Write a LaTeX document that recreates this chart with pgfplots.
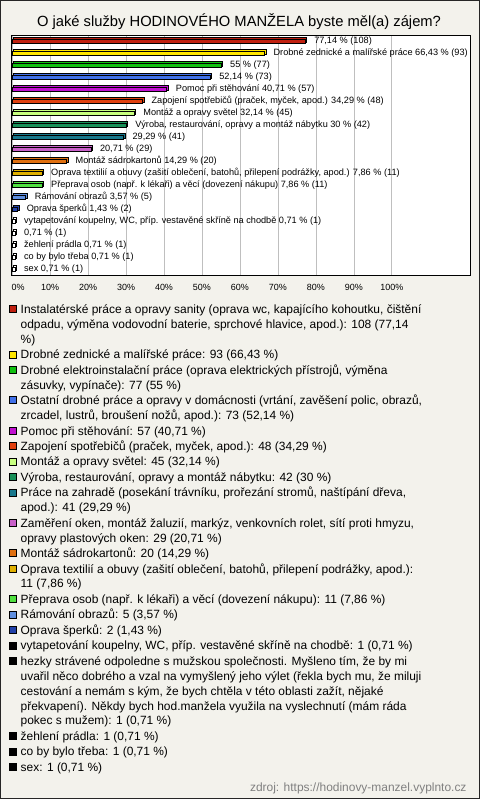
\documentclass[border=0pt]{standalone}
\usepackage{pgfplots}
\pgfplotsset{compat=1.18}
\usepackage{fontspec}
\setmainfont{Liberation Sans}
\definecolor{bg}{RGB}{243,242,236}
\definecolor{c0}{RGB}{192,32,16}
\definecolor{c1}{RGB}{255,230,0}
\definecolor{c2}{RGB}{16,192,16}
\definecolor{c3}{RGB}{64,112,232}
\definecolor{c4}{RGB}{192,16,208}
\definecolor{c5}{RGB}{224,64,16}
\definecolor{c6}{RGB}{200,255,128}
\definecolor{c7}{RGB}{24,144,88}
\definecolor{c8}{RGB}{24,120,140}
\definecolor{c9}{RGB}{200,96,200}
\definecolor{c10}{RGB}{224,112,16}
\definecolor{c11}{RGB}{224,176,0}
\definecolor{c12}{RGB}{80,224,64}
\definecolor{c13}{RGB}{96,144,224}
\definecolor{c14}{RGB}{32,64,168}
\definecolor{c15}{RGB}{255,255,255}
\newcommand{\LE}[1]{\parbox[t]{455bp}{\raggedright\strut#1\strut}}
\pgfplotsset{blacklegend/.style={legend image code/.code={\draw[draw=black, fill=black, line width=0.5bp] (0bp,1bp) rectangle (7bp,8bp);}}}
\begin{document}
\begin{tikzpicture}
\useasboundingbox (0,0) rectangle (480bp,-799bp);
\fill[bg] (0,0) rectangle (480bp,-799bp);
\draw[black!85, line width=1bp] (0.5bp,-0.5bp) rectangle (479.5bp,-798.5bp);
\node[font=\fontsize{14.8}{17}\selectfont, anchor=base] at (239bp,-26bp) {O jaké služby HODINOVÉHO MANŽELA byste měl(a) zájem?};
\node[font=\fontsize{12}{14}\selectfont, text=black!50, anchor=base east] at (470bp,-791bp) {zdroj: https://hodinovy-manzel.vyplnto.cz};
\begin{axis}[
  at={(11bp,-275bp)}, anchor=south west,
  width=459bp, height=240bp, scale only axis,
  xmin=-0.3, xmax=120.6, ymin=-0.5, ymax=19.5, y dir=reverse,
  xbar, bar width=4.5bp, bar shift=0pt,
  axis background/.style={fill=white},
  axis line style={black, line width=0.8bp},
  xtick={0,10,...,100},
  xticklabels={\hspace*{12bp}0\%,10\%,20\%,30\%,40\%,50\%,60\%,70\%,80\%,90\%,100\%},
  xticklabel style={font=\fontsize{9}{10}\selectfont, yshift=-6bp},
  ytick=\empty,
  xmajorgrids, major grid style={black!25, line width=0.6bp},
  tick style={draw=none},
  every node near coord/.append style={font=\fontsize{9.2}{10}\selectfont, text=black, anchor=west, inner sep=0pt, xshift=9bp},
  legend image code/.code={\draw[#1, draw=black, line width=0.5bp] (0bp,1bp) rectangle (7bp,8bp);},
  legend style={at={(axis description cs:-0.0033,-0.1167)}, anchor=north west, draw=none, fill=none, inner sep=0pt, outer sep=0pt, row sep=0.5bp, column sep=3.7bp, font=\fontsize{12}{15}\selectfont, cells={anchor=base west}, nodes={inner sep=0pt, text depth=, text height=}},
]
\addplot[fill=c0, draw=black, line width=0.5bp, forget plot, xshift=1.5bp, yshift=1.5bp] coordinates {(77.14,0)};
\addplot[fill=c0, draw=black, line width=0.5bp, nodes near coords={77,14 \% (108)}] coordinates {(77.14,0)};
\addlegendentry{\LE{Instalatérské práce a opravy sanity (oprava wc, kapajícího kohoutku, čištění\\odpadu, výměna vodovodní baterie, sprchové hlavice, apod.): 108 (77,14\\\%)}}
\addplot[fill=c1, draw=black, line width=0.5bp, forget plot, xshift=1.5bp, yshift=1.5bp] coordinates {(66.43,1)};
\addplot[fill=c1, draw=black, line width=0.5bp, nodes near coords={Drobné zednické a malířské práce 66,43 \% (93)}] coordinates {(66.43,1)};
\addlegendentry{\LE{Drobné zednické a malířské práce: 93 (66,43 \%)}}
\addplot[fill=c2, draw=black, line width=0.5bp, forget plot, xshift=1.5bp, yshift=1.5bp] coordinates {(55,2)};
\addplot[fill=c2, draw=black, line width=0.5bp, nodes near coords={55 \% (77)}] coordinates {(55,2)};
\addlegendentry{\LE{Drobné elektroinstalační práce (oprava elektrických přístrojů, výměna\\zásuvky, vypínače): 77 (55 \%)}}
\addplot[fill=c3, draw=black, line width=0.5bp, forget plot, xshift=1.5bp, yshift=1.5bp] coordinates {(52.14,3)};
\addplot[fill=c3, draw=black, line width=0.5bp, nodes near coords={52,14 \% (73)}] coordinates {(52.14,3)};
\addlegendentry{\LE{Ostatní drobné práce a opravy v domácnosti (vrtání, zavěšení polic, obrazů,\\zrcadel, lustrů, broušení nožů, apod.): 73 (52,14 \%)}}
\addplot[fill=c4, draw=black, line width=0.5bp, forget plot, xshift=1.5bp, yshift=1.5bp] coordinates {(40.71,4)};
\addplot[fill=c4, draw=black, line width=0.5bp, nodes near coords={Pomoc při stěhování 40,71 \% (57)}] coordinates {(40.71,4)};
\addlegendentry{\LE{Pomoc při stěhování: 57 (40,71 \%)}}
\addplot[fill=c5, draw=black, line width=0.5bp, forget plot, xshift=1.5bp, yshift=1.5bp] coordinates {(34.29,5)};
\addplot[fill=c5, draw=black, line width=0.5bp, nodes near coords={Zapojení spotřebičů (praček, myček, apod.) 34,29 \% (48)}] coordinates {(34.29,5)};
\addlegendentry{\LE{Zapojení spotřebičů (praček, myček, apod.): 48 (34,29 \%)}}
\addplot[fill=c6, draw=black, line width=0.5bp, forget plot, xshift=1.5bp, yshift=1.5bp] coordinates {(32.14,6)};
\addplot[fill=c6, draw=black, line width=0.5bp, nodes near coords={Montáž a opravy světel 32,14 \% (45)}] coordinates {(32.14,6)};
\addlegendentry{\LE{Montáž a opravy světel: 45 (32,14 \%)}}
\addplot[fill=c7, draw=black, line width=0.5bp, forget plot, xshift=1.5bp, yshift=1.5bp] coordinates {(30,7)};
\addplot[fill=c7, draw=black, line width=0.5bp, nodes near coords={Výroba, restaurování, opravy a montáž nábytku 30 \% (42)}] coordinates {(30,7)};
\addlegendentry{\LE{Výroba, restaurování, opravy a montáž nábytku: 42 (30 \%)}}
\addplot[fill=c8, draw=black, line width=0.5bp, forget plot, xshift=1.5bp, yshift=1.5bp] coordinates {(29.29,8)};
\addplot[fill=c8, draw=black, line width=0.5bp, nodes near coords={29,29 \% (41)}] coordinates {(29.29,8)};
\addlegendentry{\LE{Práce na zahradě (posekání trávníku, prořezání stromů, naštípání dřeva,\\apod.): 41 (29,29 \%)}}
\addplot[fill=c9, draw=black, line width=0.5bp, forget plot, xshift=1.5bp, yshift=1.5bp] coordinates {(20.71,9)};
\addplot[fill=c9, draw=black, line width=0.5bp, nodes near coords={20,71 \% (29)}] coordinates {(20.71,9)};
\addlegendentry{\LE{Zaměření oken, montáž žaluzií, markýz, venkovních rolet, sítí proti hmyzu,\\opravy plastových oken: 29 (20,71 \%)}}
\addplot[fill=c10, draw=black, line width=0.5bp, forget plot, xshift=1.5bp, yshift=1.5bp] coordinates {(14.29,10)};
\addplot[fill=c10, draw=black, line width=0.5bp, nodes near coords={Montáž sádrokartonů 14,29 \% (20)}] coordinates {(14.29,10)};
\addlegendentry{\LE{Montáž sádrokartonů: 20 (14,29 \%)}}
\addplot[fill=c11, draw=black, line width=0.5bp, forget plot, xshift=1.5bp, yshift=1.5bp] coordinates {(7.86,11)};
\addplot[fill=c11, draw=black, line width=0.5bp, nodes near coords={Oprava textilií a obuvy (zašití oblečení, batohů, přilepení podrážky, apod.) 7,86 \% (11)}] coordinates {(7.86,11)};
\addlegendentry{\LE{Oprava textilií a obuvy (zašití oblečení, batohů, přilepení podrážky, apod.):\\11 (7,86 \%)}}
\addplot[fill=c12, draw=black, line width=0.5bp, forget plot, xshift=1.5bp, yshift=1.5bp] coordinates {(7.86,12)};
\addplot[fill=c12, draw=black, line width=0.5bp, nodes near coords={Přeprava osob (např. k lékaři) a věcí (dovezení nákupu) 7,86 \% (11)}] coordinates {(7.86,12)};
\addlegendentry{\LE{Přeprava osob (např. k lékaři) a věcí (dovezení nákupu): 11 (7,86 \%)}}
\addplot[fill=c13, draw=black, line width=0.5bp, forget plot, xshift=1.5bp, yshift=1.5bp] coordinates {(3.57,13)};
\addplot[fill=c13, draw=black, line width=0.5bp, nodes near coords={Rámování obrazů 3,57 \% (5)}] coordinates {(3.57,13)};
\addlegendentry{\LE{Rámování obrazů: 5 (3,57 \%)}}
\addplot[fill=c14, draw=black, line width=0.5bp, forget plot, xshift=1.5bp, yshift=1.5bp] coordinates {(1.43,14)};
\addplot[fill=c14, draw=black, line width=0.5bp, nodes near coords={Oprava šperků 1,43 \% (2)}] coordinates {(1.43,14)};
\addlegendentry{\LE{Oprava šperků: 2 (1,43 \%)}}
\addplot[fill=c15, draw=black, line width=0.5bp, forget plot, xshift=1.5bp, yshift=1.5bp] coordinates {(0.71,15)};
\addplot[fill=c15, draw=black, line width=0.5bp, blacklegend, nodes near coords={vytapetování koupelny, WC, příp. vestavěné skříně na chodbě 0,71 \% (1)}] coordinates {(0.71,15)};
\addlegendentry{\LE{vytapetování koupelny, WC, příp. vestavěné skříně na chodbě: 1 (0,71 \%)}}
\addplot[fill=c15, draw=black, line width=0.5bp, forget plot, xshift=1.5bp, yshift=1.5bp] coordinates {(0.71,16)};
\addplot[fill=c15, draw=black, line width=0.5bp, blacklegend, nodes near coords={0,71 \% (1)}] coordinates {(0.71,16)};
\addlegendentry{\LE{hezky strávené odpoledne s mužskou společnosti. Myšleno tím, že by mi\\uvařil něco dobrého a vzal na vymyšlený jeho výlet (řekla bych mu, že miluji\\cestování a nemám s kým, že bych chtěla v této oblasti zažít, nějaké\\překvapení). Někdy bych hod.manžela využila na vyslechnutí (mám ráda\\pokec s mužem): 1 (0,71 \%)}}
\addplot[fill=c15, draw=black, line width=0.5bp, forget plot, xshift=1.5bp, yshift=1.5bp] coordinates {(0.71,17)};
\addplot[fill=c15, draw=black, line width=0.5bp, blacklegend, nodes near coords={žehlení prádla 0,71 \% (1)}] coordinates {(0.71,17)};
\addlegendentry{\LE{žehlení prádla: 1 (0,71 \%)}}
\addplot[fill=c15, draw=black, line width=0.5bp, forget plot, xshift=1.5bp, yshift=1.5bp] coordinates {(0.71,18)};
\addplot[fill=c15, draw=black, line width=0.5bp, blacklegend, nodes near coords={co by bylo třeba 0,71 \% (1)}] coordinates {(0.71,18)};
\addlegendentry{\LE{co by bylo třeba: 1 (0,71 \%)}}
\addplot[fill=c15, draw=black, line width=0.5bp, forget plot, xshift=1.5bp, yshift=1.5bp] coordinates {(0.71,19)};
\addplot[fill=c15, draw=black, line width=0.5bp, blacklegend, nodes near coords={sex 0,71 \% (1)}] coordinates {(0.71,19)};
\addlegendentry{\LE{sex: 1 (0,71 \%)}}
\end{axis}
\end{tikzpicture}
\end{document}
